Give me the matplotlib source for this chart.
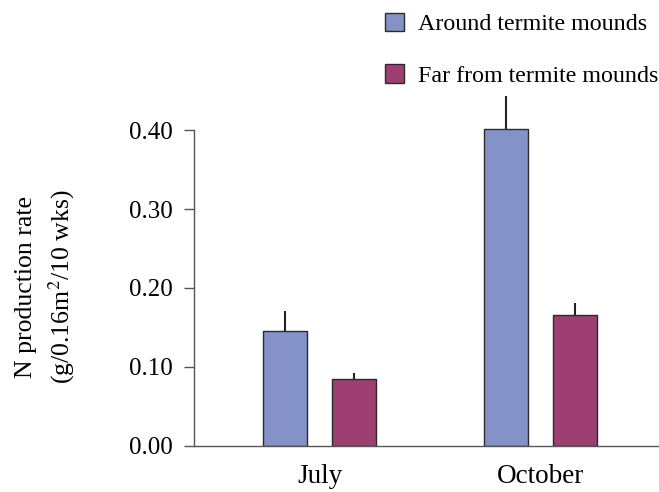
import matplotlib
matplotlib.use("Agg")
import matplotlib.pyplot as plt
import numpy as np

months = ["July", "October"]
series_names = ["Around termite mounds", "Far from termite mounds"]
around = [0.145, 0.401]
around_err = [0.026, 0.042]
far = [0.084, 0.166]
far_err = [0.008, 0.015]
yticks = [0.0, 0.1, 0.2, 0.3, 0.4]
ytick_labels = ["0.00", "0.10", "0.20", "0.30", "0.40"]

plt.rcParams['font.family'] = ['Liberation Serif', 'DejaVu Serif']
plt.rcParams['mathtext.fontset'] = 'stix'

fig = plt.figure(figsize=(6.59, 4.92), dpi=100)
ax = fig.add_axes([194/659, 1 - 445.7/492, 1 - 194/659, 355/492])

x = np.arange(len(months))
w = 0.199
off = 0.156
c_blue = "#8592C8"
c_red = "#9E3F72"
b1 = ax.bar(x - off, around, w, color=c_blue, edgecolor="#2a2a2a", linewidth=1.0,
            label=series_names[0], zorder=2)
b2 = ax.bar(x + off, far, w, color=c_red, edgecolor="#2a2a2a", linewidth=1.0,
            label=series_names[1], zorder=2)
ax.errorbar(x - off, around, yerr=[np.zeros(2), around_err], fmt="none",
            ecolor="#222222", elinewidth=1.5, capsize=0, zorder=3)
ax.errorbar(x + off, far, yerr=[np.zeros(2), far_err], fmt="none",
            ecolor="#222222", elinewidth=1.5, capsize=0, zorder=3)

ax.set_xlim(-0.568, 1.536)
ax.set_ylim(0, 0.45)
ax.set_yticks(yticks)
ax.set_yticklabels(ytick_labels)
ax.set_xticks(x)
ax.set_xticklabels(months)
ax.tick_params(axis='x', length=0, labelsize=19.5, pad=13)
ax.tick_params(axis='y', length=7, width=1.0, color="#555555", labelsize=18, pad=8,
               direction='out')
for s in ["top", "right"]:
    ax.spines[s].set_visible(False)
ax.spines["left"].set_bounds(0, 0.4)
ax.spines["left"].set_color("#555555")
ax.spines["bottom"].set_color("#555555")
ax.spines["left"].set_linewidth(1.0)
ax.spines["bottom"].set_linewidth(1.0)

fig.text(26/659, 1 - 287/492, "N production rate", rotation=90, ha="center",
         va="center", fontsize=18.5)
fig.text(62/659, 1 - 287/492, r"(g/0.16m$^{2}$/10 wks)", rotation=90, ha="center",
         va="center", fontsize=18.5)

fig.legend(handles=[b1, b2], loc="upper left", bbox_to_anchor=(380/659, 1 - 8/492),
           frameon=False, fontsize=17.3, handlelength=0.78, handleheight=0.8,
           handletextpad=0.6, labelspacing=1.2, borderaxespad=0, borderpad=0.2)

fig.savefig("out.png", dpi=100)
